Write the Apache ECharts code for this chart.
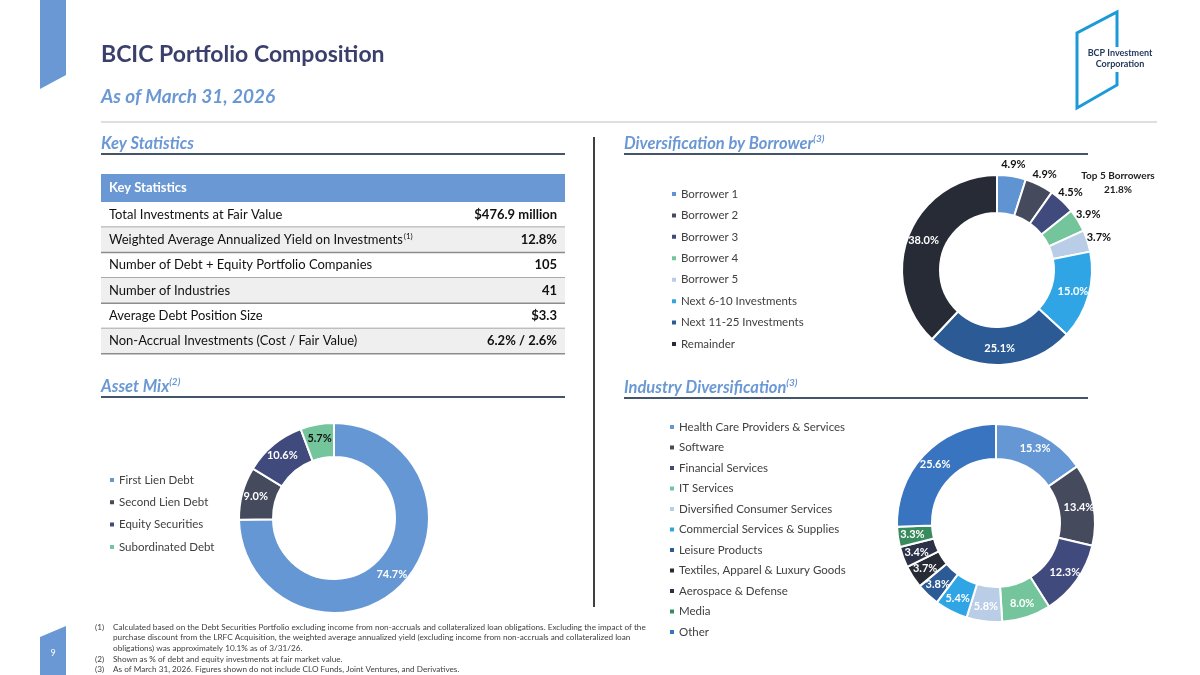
<!DOCTYPE html>
<html>
<head>
<meta charset="utf-8">
<script src="https://cdn.jsdelivr.net/npm/echarts@6/dist/echarts.min.js"></script>
<style>
html,body{margin:0;padding:0;background:#fff;}
#chart{width:1200px;height:675px;}
</style>
</head>
<body>
<div id="chart"></div>
<script>
// ---------- data ----------
const titleText = 'BCIC Portfolio Composition';
const subtitleText = 'As of March 31, 2026';

const statLabels = [
  'Total Investments at Fair Value',
  'Weighted Average Annualized Yield on Investments',
  'Number of Debt + Equity Portfolio Companies',
  'Number of Industries',
  'Average Debt Position Size',
  'Non-Accrual Investments (Cost / Fair Value)'
];
const statNotes = ['', '(1)', '', '', '', ''];
const statValues = ['$476.9 million', '12.8%', '105', '41', '$3.3', '6.2% / 2.6%'];

const borrowerNames = ['Borrower 1', 'Borrower 2', 'Borrower 3', 'Borrower 4', 'Borrower 5',
  'Next 6-10 Investments', 'Next 11-25 Investments', 'Remainder'];
const borrowerValues = [4.9, 4.9, 4.5, 3.9, 3.7, 15.0, 25.1, 38.0];
const borrowerColors = ['#5f93d1', '#454a5c', '#404a7c', '#74c59c', '#b9cde6', '#30a5e6', '#2c5a95', '#262b36'];
const top5Label = ['Top 5 Borrowers', '21.8%'];

const assetNames = ['First Lien Debt', 'Second Lien Debt', 'Equity Securities', 'Subordinated Debt'];
const assetValues = [74.7, 9.0, 10.6, 5.7];
const assetColors = ['#6497d3', '#454a5c', '#404a7c', '#74c59c'];

const industryNames = ['Health Care Providers & Services', 'Software', 'Financial Services', 'IT Services',
  'Diversified Consumer Services', 'Commercial Services & Supplies', 'Leisure Products',
  'Textiles, Apparel & Luxury Goods', 'Aerospace & Defense', 'Media', 'Other'];
const industryValues = [15.3, 13.4, 12.3, 8.0, 5.8, 5.4, 3.8, 3.7, 3.4, 3.3, 25.6];
const industryColors = ['#6497d3', '#454a5c', '#404a7c', '#74c59c', '#b9cde6', '#30a5e6', '#2c5a95',
  '#262b36', '#2c3148', '#378b5d', '#3874bf'];

const footnotes = [
  ['(1)', 'Calculated based on the Debt Securities Portfolio excluding income from non-accruals and collateralized loan obligations. Excluding the impact of the'],
  ['', 'purchase discount from the LRFC Acquisition, the weighted average annualized yield (excluding income from non-accruals and collateralized loan'],
  ['', 'obligations) was approximately 10.1% as of 3/31/26.'],
  ['(2)', 'Shown as % of debt and equity investments at fair market value.'],
  ['(3)', 'As of March 31, 2026. Figures shown do not include CLO Funds, Joint Ventures, and Derivatives.']
];
const pageNumber = '9';

// ---------- styles ----------
const FONT = 'Lato, "Open Sans", sans-serif';
const BLUE = '#6a98d4';
const NAVY = '#3a3f6c';
const RULE = '#44546a';

const chart = echarts.init(document.getElementById('chart'), null, {renderer: 'canvas'});

const g = [];
// left ribbon top
g.push({type: 'polygon', shape: {points: [[40, 0], [66, 0], [66, 75], [40, 89]]}, style: {fill: BLUE}});
// bottom page tab
g.push({type: 'polygon', shape: {points: [[40, 637], [66, 626], [66, 675], [40, 675]]}, style: {fill: BLUE}});
g.push({type: 'text', style: {text: pageNumber, x: 53, y: 653, fill: '#fff', font: '9px ' + FONT, textAlign: 'center', textVerticalAlign: 'middle'}});
// title
g.push({type: 'text', style: {text: titleText, x: 101, y: 55, fill: NAVY, font: 'bold 23px ' + FONT, textVerticalAlign: 'middle'}});
g.push({type: 'text', style: {text: subtitleText, x: 101, y: 97, fill: BLUE, font: 'italic bold 19px ' + FONT, textVerticalAlign: 'middle'}});
g.push({type: 'line', shape: {x1: 101, y1: 122, x2: 1157, y2: 122}, style: {stroke: '#d4d4d4', lineWidth: 1.5}});
// logo
g.push({type: 'polyline', shape: {points: [[1117, 47], [1117, 12], [1077, 33], [1077, 108], [1117, 85], [1117, 72]]}, style: {stroke: '#1c9ad8', lineWidth: 3, fill: null}});
g.push({type: 'text', style: {text: 'BCP Investment', x: 1120, y: 53, fill: '#23395d', font: 'bold 9px ' + FONT, textAlign: 'center', textVerticalAlign: 'middle'}});
g.push({type: 'text', style: {text: 'Corporation', x: 1120, y: 64, fill: '#23395d', font: 'bold 9px ' + FONT, textAlign: 'center', textVerticalAlign: 'middle'}});

// section headers
function header(x, y, main, sup, x2) {
  g.push({type: 'text', style: {
    text: '{m|' + main + '}' + (sup ? '{s|' + sup + '}' : ''), x: x, y: y, textVerticalAlign: 'middle',
    rich: {
      m: {font: 'italic bold 16.5px ' + FONT, fill: BLUE, lineHeight: 20},
      s: {font: 'italic bold 10px ' + FONT, fill: BLUE, lineHeight: 20, verticalAlign: 'top', padding: [0, 0, 8, 0]}
    }}});
  g.push({type: 'line', shape: {x1: x, y1: y + 10, x2: x2, y2: y + 10}, style: {stroke: RULE, lineWidth: 2}});
}
header(101, 144, 'Key Statistics', '', 565);
header(624, 144, 'Diversification by Borrower', '(3)', 1088);
header(101, 387, 'Asset Mix', '(2)', 565);
header(624, 388, 'Industry Diversification', '(3)', 1088);
// vertical divider
g.push({type: 'line', shape: {x1: 594, y1: 137, x2: 594, y2: 607}, style: {stroke: '#404040', lineWidth: 2}});

// table
const tX1 = 101, tX2 = 565, hTop = 174, hBot = 202, rowH = 25.3;
g.push({type: 'rect', shape: {x: tX1, y: hTop, width: tX2 - tX1, height: hBot - hTop}, style: {fill: BLUE}});
g.push({type: 'text', style: {text: 'Key Statistics', x: 109, y: (hTop + hBot) / 2, fill: '#fff', font: 'bold 13px ' + FONT, textVerticalAlign: 'middle'}});
statLabels.forEach((lab, i) => {
  const y0 = hBot + i * rowH;
  if (i % 2 === 1) g.push({type: 'rect', shape: {x: tX1, y: y0, width: tX2 - tX1, height: rowH}, style: {fill: '#efefef'}});
  g.push({type: 'line', shape: {x1: tX1, y1: y0 + rowH, x2: tX2, y2: y0 + rowH}, style: {stroke: '#8c8c8c', lineWidth: 1.5}});
  g.push({type: 'text', style: {
    text: '{a|' + lab + '}' + (statNotes[i] ? '{s|' + statNotes[i] + '}' : ''), x: 109, y: y0 + rowH / 2, textVerticalAlign: 'middle',
    rich: {
      a: {font: '13px ' + FONT, fill: '#111', lineHeight: 16},
      s: {font: '8px ' + FONT, fill: '#111', lineHeight: 16, verticalAlign: 'top', padding: [0, 0, 6, 1]}
    }}});
  g.push({type: 'text', style: {text: statValues[i], x: 557, y: y0 + rowH / 2, fill: '#111', font: 'bold 13px ' + FONT, textAlign: 'right', textVerticalAlign: 'middle'}});
});

// top 5 label
g.push({type: 'text', style: {text: top5Label[0], x: 1118, y: 176, fill: '#222', font: 'bold 10px ' + FONT, textAlign: 'center', textVerticalAlign: 'middle'}});
g.push({type: 'text', style: {text: top5Label[1], x: 1118, y: 190, fill: '#222', font: 'bold 10px ' + FONT, textAlign: 'center', textVerticalAlign: 'middle'}});

// footnotes
footnotes.forEach((f, i) => {
  const y = 627 + i * 10.7;
  if (f[0]) g.push({type: 'text', style: {text: f[0], x: 95, y: y, fill: '#404040', font: '8.2px ' + FONT, textVerticalAlign: 'middle'}});
  g.push({type: 'text', style: {text: f[1], x: 113, y: y, fill: '#404040', font: '8.2px ' + FONT, textVerticalAlign: 'middle'}});
});

// ---------- pies ----------
const pct = p => p.value.toFixed(1) + '%';
function pieData(names, values, colors, labelFn) {
  return names.map((n, i) => {
    const d = {name: n, value: values[i], itemStyle: {color: colors[i]}};
    const l = labelFn ? labelFn(i) : null;
    if (l) d.label = l;
    return d;
  });
}
const inLabel = {show: true, position: 'inside', color: '#fff', fontFamily: FONT, fontWeight: 'bold', fontSize: 11, formatter: pct};
const baseStyle = {borderColor: '#fff', borderWidth: 2};

const series = [
  {
    type: 'pie', name: 'borrower', center: [997, 270], radius: [57, 95], startAngle: 90, clockwise: true,
    avoidLabelOverlap: false, itemStyle: baseStyle, labelLine: {show: false}, emphasis: {disabled: true},
    label: inLabel,
    data: pieData(borrowerNames, borrowerValues, borrowerColors, i => i < 5 ? {show: false} : null)
  },
  {
    type: 'pie', name: 'borrowerOuter', center: [997, 270], radius: [100, 108], startAngle: 90, clockwise: true,
    silent: true, avoidLabelOverlap: false, labelLine: {show: false}, emphasis: {disabled: true},
    itemStyle: {color: 'rgba(0,0,0,0)', borderWidth: 0},
    label: {show: true, position: 'inside', color: '#111', fontFamily: FONT, fontWeight: 'bold', fontSize: 11, formatter: pct},
    data: borrowerNames.map((n, i) => ({name: n, value: borrowerValues[i], itemStyle: {color: 'rgba(0,0,0,0)'}, label: {show: i < 5}}))
  },
  {
    type: 'pie', name: 'asset', center: [334, 518], radius: [61, 95], startAngle: 90, clockwise: true,
    avoidLabelOverlap: false, itemStyle: baseStyle, labelLine: {show: false}, emphasis: {disabled: true},
    label: inLabel,
    data: pieData(assetNames, assetValues, assetColors, i => i === 3 ? {color: '#111'} : null)
  },
  {
    type: 'pie', name: 'industry', center: [996, 523], radius: [64, 99], startAngle: 90, clockwise: true,
    avoidLabelOverlap: false, itemStyle: baseStyle, labelLine: {show: false}, emphasis: {disabled: true},
    label: inLabel,
    data: pieData(industryNames, industryValues, industryColors)
  }
];

function legend(names, colors, left, top, gap) {
  return {
    orient: 'vertical', left: left, top: top, padding: 0, itemWidth: 6, itemHeight: 6, itemGap: gap - 14, icon: 'rect',
    selectedMode: false,
    textStyle: {fontFamily: FONT, fontSize: 11.5, color: '#404040', lineHeight: 14, padding: [0, 0, 0, -1]},
    data: names.map((n, i) => ({name: n, itemStyle: {color: colors[i]}}))
  };
}

chart.setOption({
  animation: false,
  backgroundColor: '#fff',
  legend: [
    legend(borrowerNames, borrowerColors, 670, 187, 21.43),
    legend(assetNames, assetColors, 108, 473, 22.3),
    legend(industryNames, industryColors, 668, 420, 20.5)
  ],
  graphic: {elements: g},
  series: series
});
</script>
</body>
</html>
